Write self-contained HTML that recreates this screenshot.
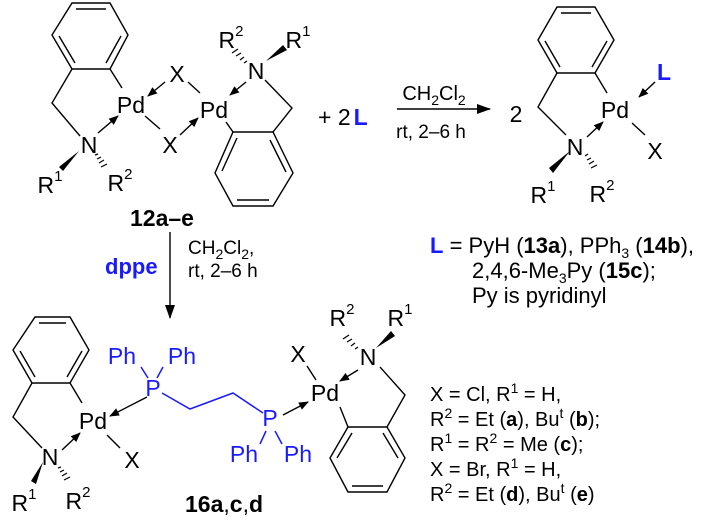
<!DOCTYPE html>
<html><head><meta charset="utf-8"><style>
html,body{margin:0;padding:0;background:#fff}
svg{display:block}
text{font-family:"Liberation Sans",sans-serif;fill:#000}
.a{font-size:23px}
.b{fill:#1a1aff}
.bold{font-weight:bold}
.t{font-size:19px}
.lb{font-size:22px}
.xb{font-size:20px}
.s{font-size:15px}
</style></head><body>
<svg width="724" height="524" viewBox="0 0 724 524" xmlns="http://www.w3.org/2000/svg">
<defs>
<marker id="ah" markerWidth="10" markerHeight="8" refX="9" refY="4" orient="auto" markerUnits="userSpaceOnUse"><path d="M0,0 L10,4 L0,8 z" fill="#000"/></marker>
<marker id="ahb" markerWidth="14" markerHeight="10" refX="13" refY="5" orient="auto" markerUnits="userSpaceOnUse"><path d="M0,0 L14,5 L0,10 z" fill="#000"/></marker>
</defs>
<g stroke="#000" stroke-width="1.4" fill="none">
<polygon points="72,3 110,3 128,35 110,69 72,69 52,35"/>
<line x1="76" y1="9" x2="106" y2="9"/><line x1="121" y1="36" x2="106" y2="63"/><line x1="59" y1="36" x2="75" y2="63"/>
<polyline points="72,69 52,103 80,136"/>
<line x1="110" y1="69" x2="122" y2="88"/>
<line x1="98" y1="133" x2="118" y2="116" marker-end="url(#ah)"/>
<line x1="165" y1="82" x2="148" y2="96" marker-end="url(#ah)"/>
<line x1="188" y1="82" x2="200" y2="93"/>
<line x1="145" y1="116" x2="160" y2="129"/>
<line x1="180" y1="135" x2="198" y2="118" marker-end="url(#ah)"/>
<polygon points="233,132 273,132 293,173 273,206 233,206 215,173"/>
<line x1="237" y1="138" x2="222" y2="171"/><line x1="286" y1="172" x2="270" y2="140"/><line x1="237" y1="200" x2="269" y2="200"/>
<line x1="226" y1="122" x2="233" y2="132"/>
<polyline points="265,80 292,108 273,132"/>
<line x1="246" y1="82" x2="230" y2="95" marker-end="url(#ah)"/>
<line x1="397" y1="109" x2="490" y2="109" marker-end="url(#ahb)"/>
<polygon points="557,7 595,7 614,40 595,73 557,73 538,40"/>
<line x1="561" y1="13" x2="591" y2="13"/><line x1="607" y1="41" x2="592" y2="67"/><line x1="545" y1="41" x2="560" y2="67"/>
<polyline points="557,73 538,107 566,135"/>
<line x1="595" y1="73" x2="607" y2="93"/>
<line x1="587" y1="137" x2="603" y2="122" marker-end="url(#ah)"/>
<line x1="655" y1="82" x2="639" y2="97" marker-end="url(#ah)"/>
<line x1="632" y1="123" x2="645" y2="135"/>
<line x1="170" y1="232" x2="170" y2="318" marker-end="url(#ahb)"/>
<polygon points="35,317 70,317 89,350 70,383 32,383 13,350"/>
<line x1="39" y1="323" x2="66" y2="323"/><line x1="82" y1="351" x2="67" y2="377"/><line x1="20" y1="351" x2="35" y2="377"/>
<polyline points="32,383 13,417 42,448"/>
<line x1="70" y1="383" x2="82" y2="403"/>
<line x1="62" y1="450" x2="80" y2="433" marker-end="url(#ah)"/>
<line x1="107" y1="435" x2="120" y2="448"/>
<line x1="147" y1="397" x2="110" y2="416" marker-end="url(#ah)"/>
<line x1="283" y1="415" x2="308" y2="402" marker-end="url(#ah)"/>
<polygon points="348,427 387,427 405,458 387,492 348,492 330,458"/>
<line x1="352" y1="433" x2="337" y2="458"/><line x1="383" y1="433" x2="398" y2="458"/><line x1="352" y1="486" x2="383" y2="486"/>
<line x1="340" y1="407" x2="348" y2="427"/>
<polyline points="380,367 405,395 387,427"/>
<line x1="358" y1="370" x2="340" y2="381" marker-end="url(#ah)"/>
<line x1="307" y1="366" x2="316" y2="380"/>
</g>
<g stroke="#1a1aff" stroke-width="1.5" fill="none">
<polyline points="162,393 190,409 233,393 263,413"/>
<line x1="148" y1="378" x2="141" y2="367"/><line x1="157" y1="378" x2="163" y2="367"/>
<line x1="266" y1="431" x2="260" y2="444"/><line x1="275" y1="431" x2="282" y2="444"/>
</g>
<g fill="#000">
<polygon points="79,151 59,167 63,171"/>
<polygon points="266,61 283,45 287,50"/>
<polygon points="570,151 549,168 553,173"/>
<polygon points="43,462 31,481 36,484"/>
<polygon points="376,348 391,331 395,336"/>
</g>
<g stroke="#000" stroke-width="1.2">
<line x1="95" y1="155" x2="98" y2="154"/><line x1="97" y1="159" x2="101" y2="157"/><line x1="99" y1="163" x2="104" y2="160"/><line x1="101" y1="167" x2="107" y2="164"/>
<line x1="247" y1="61" x2="244" y2="63"/><line x1="244" y1="57" x2="240" y2="60"/><line x1="241" y1="53" x2="236" y2="56"/><line x1="238" y1="49" x2="232" y2="53"/>
<line x1="585" y1="156" x2="588" y2="154"/><line x1="587" y1="160" x2="591" y2="158"/><line x1="589" y1="164" x2="594" y2="161"/><line x1="591" y1="168" x2="597" y2="165"/>
<line x1="58" y1="468" x2="61" y2="467"/><line x1="60" y1="472" x2="64" y2="470"/><line x1="62" y1="476" x2="67" y2="473"/><line x1="64" y1="480" x2="70" y2="477"/>
<line x1="358" y1="347" x2="355" y2="349"/><line x1="355" y1="343" x2="351" y2="346"/><line x1="352" y1="339" x2="347" y2="342"/><line x1="349" y1="335" x2="343" y2="339"/>
</g>
<g text-anchor="middle" dominant-baseline="central" class="a">
<text class="a" x="131" y="105">Pd</text>
<text class="a" x="89" y="145">N</text>
<text class="a" x="177" y="74">X</text>
<text class="a" x="170" y="145">X</text>
<text class="a" x="214" y="110">Pd</text>
<text class="a" x="256" y="71">N</text>
<text class="a" x="50" y="185">R<tspan class="s" dy="-9">1</tspan></text>
<text class="a" x="120" y="183">R<tspan class="s" dy="-9">2</tspan></text>
<text class="a" x="231" y="40">R<tspan class="s" dy="-9">2</tspan></text>
<text class="a" x="298" y="40">R<tspan class="s" dy="-9">1</tspan></text>
<text class="a" x="615" y="110">Pd</text>
<text class="a" x="575" y="147">N</text>
<text class="a" x="655" y="151">X</text>
<text class="a" x="543" y="195">R<tspan class="s" dy="-9">1</tspan></text>
<text class="a" x="602" y="194">R<tspan class="s" dy="-9">2</tspan></text>
<text class="a" x="93" y="421">Pd</text>
<text class="a" x="50" y="457">N</text>
<text class="a" x="132" y="460">X</text>
<text class="a" x="24" y="503">R<tspan class="s" dy="-9">1</tspan></text>
<text class="a" x="78" y="501">R<tspan class="s" dy="-9">2</tspan></text>
<text class="a" x="325" y="393">Pd</text>
<text class="a" x="298" y="354">X</text>
<text class="a" x="368" y="357">N</text>
<text class="a" x="342" y="318">R<tspan class="s" dy="-9">2</tspan></text>
<text class="a" x="400" y="318">R<tspan class="s" dy="-9">1</tspan></text>
<text class="a b" x="153" y="388">P</text>
<text class="a b" x="270" y="418">P</text>
<text class="a b" x="122" y="356">Ph</text>
<text class="a b" x="182" y="356">Ph</text>
<text class="a b" x="244" y="454">Ph</text>
<text class="a b" x="298" y="454">Ph</text>
<text class="a b bold" x="664" y="72">L</text>
<text class="a" x="516" y="114">2</text>
</g>
<text class="a" x="318" y="125">+ 2<tspan class="b bold" dx="3">L</tspan></text>
<text class="bold a" x="130" y="226">12a–e</text>
<text class="bold a" x="185" y="512">16a<tspan font-weight="normal">,</tspan>c<tspan font-weight="normal">,</tspan>d</text>
<text class="t" x="434" y="100" text-anchor="middle" font-size="20" style="font-size:20px">CH<tspan font-size="14" dy="5">2</tspan><tspan dy="-5">Cl</tspan><tspan font-size="14" dy="5">2</tspan></text>
<text class="t" x="431" y="138" text-anchor="middle">rt, 2–6 h</text>
<text class="b bold" x="105" y="274" style="font-size:22px">dppe</text>
<text class="t" x="188" y="254">CH<tspan font-size="14" dy="5">2</tspan><tspan dy="-5">Cl</tspan><tspan font-size="14" dy="5">2</tspan><tspan dy="-5">,</tspan></text>
<text class="t" x="188" y="277">rt, 2–6 h</text>
<text class="lb" x="430" y="253"><tspan class="b bold">L</tspan> = PyH (<tspan class="bold">13a</tspan>), PPh<tspan font-size="14" dy="5">3</tspan><tspan dy="-5"> (</tspan><tspan class="bold">14b</tspan>),</text>
<text class="lb" x="472" y="278">2,4,6-Me<tspan font-size="14" dy="5">3</tspan><tspan dy="-5">Py (</tspan><tspan class="bold">15c</tspan>);</text>
<text class="lb" x="472" y="303">Py is pyridinyl</text>
<text class="xb" x="430" y="401">X = Cl, R<tspan font-size="14" dy="-8">1</tspan><tspan dy="8"> = H,</tspan></text>
<text class="xb" x="430" y="426">R<tspan font-size="14" dy="-8">2</tspan><tspan dy="8"> = Et (</tspan><tspan class="bold">a</tspan>), Bu<tspan font-size="14" dy="-8">t</tspan><tspan dy="8"> (</tspan><tspan class="bold">b</tspan>);</text>
<text class="xb" x="430" y="451">R<tspan font-size="14" dy="-8">1</tspan><tspan dy="8"> = R</tspan><tspan font-size="14" dy="-8">2</tspan><tspan dy="8"> = Me (</tspan><tspan class="bold">c</tspan>);</text>
<text class="xb" x="430" y="476">X = Br, R<tspan font-size="14" dy="-8">1</tspan><tspan dy="8"> = H,</tspan></text>
<text class="xb" x="430" y="501">R<tspan font-size="14" dy="-8">2</tspan><tspan dy="8"> = Et (</tspan><tspan class="bold">d</tspan>), Bu<tspan font-size="14" dy="-8">t</tspan><tspan dy="8"> (</tspan><tspan class="bold">e</tspan>)</text>
</svg>
</body></html>
